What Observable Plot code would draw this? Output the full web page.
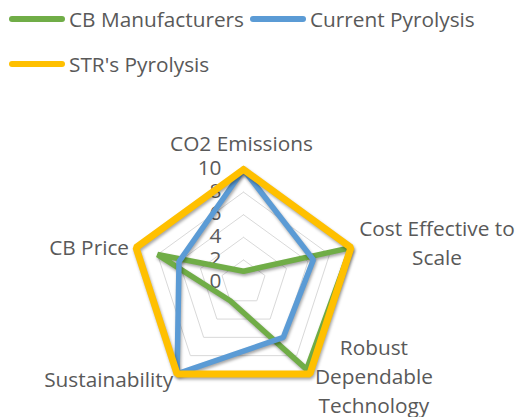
<!DOCTYPE html>
<html>
<head>
<meta charset="utf-8">
<script src="https://cdn.jsdelivr.net/npm/d3@7"></script>
<script src="https://cdn.jsdelivr.net/npm/@observablehq/plot@0.6"></script>
<style>
  html, body { margin: 0; padding: 0; background: #fff; }
  body { width: 518px; height: 417px; overflow: hidden; font-family: "Open Sans", sans-serif; color: #595959; }
  #legend { position: relative; height: 90px; }
  .item { position: absolute; display: flex; align-items: center; font-size: 20.8px; height: 28px; white-space: nowrap; }
  .sw { width: 56px; height: 6px; border-radius: 3px; margin-right: 4px; }
  #chart svg { display: block; }
  .series path { filter: drop-shadow(1px 2px 1.5px rgba(0,0,0,0.35)); }
</style>
</head>
<body>
<div id="legend"></div>
<div id="chart"></div>
<script>
// ---- data ----
const categories = ["CO2 Emissions", "Cost Effective to\nScale", "Robust\nDependable\nTechnology", "Sustainability", "CB Price"];
const seriesNames = ["CB Manufacturers", "Current Pyrolysis", "STR's Pyrolysis"];
const cbManufacturers = [1, 10, 9.5, 2, 8];
const currentPyrolysis = [10, 6.5, 6, 10, 6];
const strPyrolysis = [10, 10, 10, 10, 10];
const tickValues = [0, 2, 4, 6, 8, 10];

// ---- styles / layout ----
const colors = ["#70AD47", "#5B9BD5", "#FFC000"];
const widths = [5.5, 5.5, 7];
const legendPos = [[9, 5], [250, 5], [9, 50]];
const fs = 20.8;
const labelLayout = [
  {anchor: "middle", dx: -2, dy: -28},
  {anchor: "middle", dx: 86, dy: -6},
  {anchor: "middle", dx: 64, dy: 1},
  {anchor: "end", dx: -4, dy: 4},
  {anchor: "end", dx: -7, dy: -2}
];

// legend
const legend = document.getElementById("legend");
seriesNames.forEach((name, i) => {
  const it = document.createElement("div");
  it.className = "item";
  it.style.left = legendPos[i][0] + "px";
  it.style.top = legendPos[i][1] + "px";
  it.innerHTML = `<div class="sw" style="background:${colors[i]}"></div><span>${name}</span>`;
  legend.appendChild(it);
});

// polar helpers
const n = categories.length;
const ang = i => (2 * Math.PI * i) / n;
const px = (i, r) => r * Math.sin(ang(i));
const py = (i, r) => r * Math.cos(ang(i));

const allSeries = [cbManufacturers, currentPyrolysis, strPyrolysis];
const seriesData = allSeries.map((vals, s) =>
  d3.range(n + 1).map(k => ({s, x: px(k % n, vals[k % n]), y: py(k % n, vals[k % n])}))
);
const rings = tickValues.filter(v => v > 0).flatMap(v =>
  d3.range(n + 1).map(k => ({ring: v, x: px(k % n, v), y: py(k % n, v)}))
);
const ticks = tickValues.map(v => ({v, x: 0, y: v}));
const maxV = d3.max(tickValues);
const labels = categories.map((c, i) => ({c, x: px(i, maxV), y: py(i, maxV)}));

const W = 518, H = 327, unit = 11.3, cx = 243, cy = 192;
const chart = Plot.plot({
  width: W,
  height: H,
  margin: 0,
  x: {domain: [-cx / unit, (W - cx) / unit], axis: null},
  y: {domain: [-(H - cy) / unit, cy / unit], axis: null},
  style: {fontFamily: "Open Sans, sans-serif", background: "white"},
  marks: [
    Plot.line(rings, {x: "x", y: "y", z: "ring", stroke: "#D9D9D9", strokeWidth: 1}),
    Plot.text(ticks, {x: "x", y: "y", text: d => String(d.v), textAnchor: "end", dx: -22, dy: -1, fontSize: fs, fill: "#595959"}),
    ...seriesData.map((d, s) => Plot.line(d, {x: "x", y: "y", stroke: colors[s], strokeWidth: widths[s], strokeLinejoin: "miter", className: "series"})),
    ...labels.map((l, i) => Plot.text([l], {x: "x", y: "y", text: "c", textAnchor: labelLayout[i].anchor, dx: labelLayout[i].dx, dy: labelLayout[i].dy, lineAnchor: "middle", lineHeight: 1.38, fontSize: fs, fill: "#595959"}))
  ]
});
document.getElementById("chart").appendChild(chart);
</script>
</body>
</html>
